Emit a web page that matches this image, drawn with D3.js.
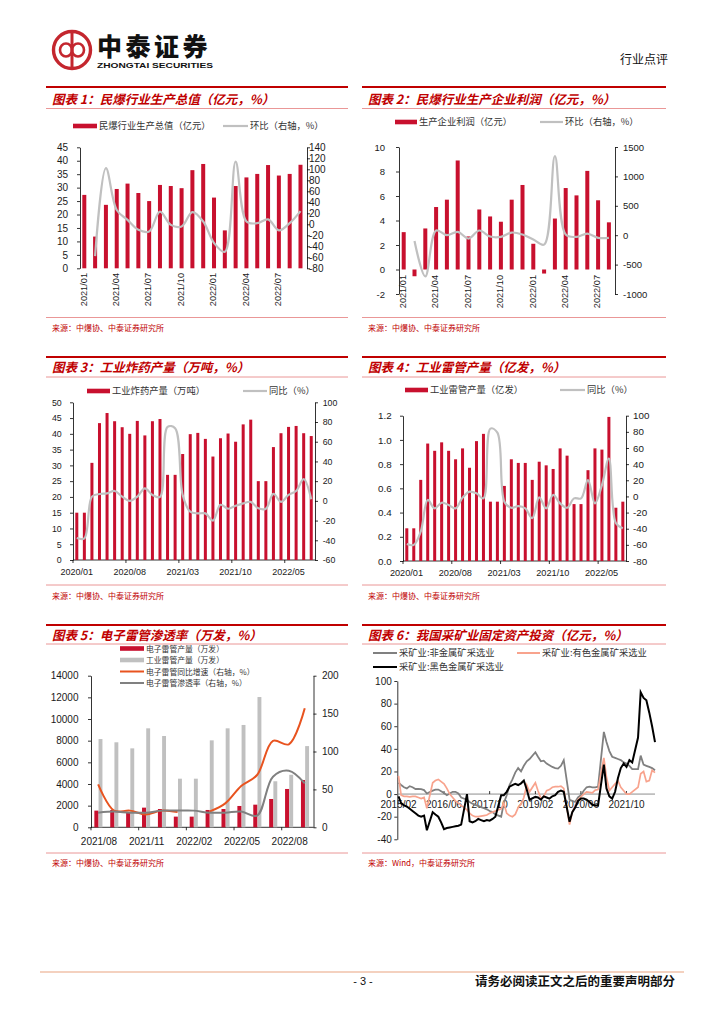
<!DOCTYPE html>
<html>
<head>
<meta charset="utf-8">
<title>行业点评</title>
<script src="https://cdn.jsdelivr.net/npm/d3@7"></script>
<style>
  html, body { margin: 0; padding: 0; background: #ffffff; }
  svg { display: block; }
</style>
</head>
<body>
<div id="page"></div>
<script>

//################### DATA ####################

// 图表1：民爆行业生产总值
var valueMonths = ['2021/01','2021/02','2021/03','2021/04','2021/05','2021/06','2021/07','2021/08','2021/09','2021/10','2021/11','2021/12','2022/01','2022/02','2022/03','2022/04','2022/05','2022/06','2022/07','2022/08','2022/09'];
var valueOutput = [27.3, 11.8, 23.6, 29.5, 31.5, 28.0, 25.0, 31.0, 30.6, 29.8, 36.5, 38.8, 26.3, 14.1, 30.6, 33.8, 35.1, 38.4, 34.5, 35.1, 38.5];
var valueMom = [null, -58, 102, 26, 8, -10, -13, 23, -1, -4, 22, 5, -34, -50, 114, 5, 2, 9, -11, 2, 24];
var valueLeftTicks = [0, 5, 10, 15, 20, 25, 30, 35, 40, 45];
var valueRightTicks = [-80, -60, -40, -20, 0, 20, 40, 60, 80, 100, 120, 140];
var valueLabels = ['2021/01','2021/04','2021/07','2021/10','2022/01','2022/04','2022/07'];

// 图表2：民爆行业生产企业利润
var profitMonths = ['2021/01','2021/02','2021/03','2021/04','2021/05','2021/06','2021/07','2021/08','2021/09','2021/10','2021/11','2021/12','2022/01','2022/02','2022/03','2022/04','2022/05','2022/06','2022/07','2022/08'];
var profitValue = [3.05, -0.55, 3.35, 5.1, 5.7, 8.9, 2.7, 4.9, 4.33, 3.9, 5.7, 6.9, 2.1, -0.33, 4.16, 6.65, 6.05, 8.05, 5.65, 3.85];
var profitMom = [null, -100, -700, 80, 0, 57, -57, 80, -23, -28, 45, 11, -74, -160, 1346, 11, -28, 28, -45, -45];
var profitLeftTicks = [-2, 0, 2, 4, 6, 8, 10];
var profitRightTicks = [-1000, -500, 0, 500, 1000, 1500];
var profitLabels = ['2021/01','2021/04','2021/07','2021/10','2022/01','2022/04','2022/07'];

// 图表3 / 图表4：工业炸药、工业雷管产量
var outputMonths = ['2020/01','2020/02','2020/03','2020/04','2020/05','2020/06','2020/07','2020/08','2020/09','2020/10','2020/11','2020/12','2021/01','2021/02','2021/03','2021/04','2021/05','2021/06','2021/07','2021/08','2021/09','2021/10','2021/11','2021/12','2022/01','2022/02','2022/03','2022/04','2022/05','2022/06','2022/07','2022/08'];
var outputLabels = ['2020/01','2020/08','2021/03','2021/10','2022/05'];
var explosiveOutput = [15.0, 15.0, 30.8, 43.4, 46.6, 44.0, 42.1, 40.0, 44.1, 39.5, 44.0, 44.7, 27.0, 27.0, 33.6, 39.9, 40.3, 38.4, 32.8, 38.6, 40.1, 37.5, 43.0, 44.5, 25.0, 25.0, 35.8, 40.2, 42.2, 42.5, 40.2, 39.3];
var explosiveYoy = [-37.7, -38, 4.3, 7, 7.6, 10, 4.3, 0, 4.3, 12.7, 6, 4, 75, 73.6, 6, -11, -12.7, -12.7, -20, -4, -8, -5, -2.5, -1, -7.6, -8, 7, -1, 6, 10, 22, 1.6];
var explosiveLeftTicks = [0, 5, 10, 15, 20, 25, 30, 35, 40, 45, 50];
var explosiveRightTicks = [-60, -40, -20, 0, 20, 40, 60, 80, 100];
var detonatorOutput = [0.27, 0.27, 0.67, 0.97, 0.91, 0.98, 0.91, 0.84, 0.93, 0.77, 0.99, 1.05, 0.49, 0.49, 0.62, 0.84, 0.81, 0.81, 0.67, 0.82, 0.79, 0.76, 0.93, 0.87, 0.47, 0.47, 0.75, 0.93, 0.92, 1.19, 0.44, 0.49];
var detonatorYoy = [-59, -60, -43.6, -4.4, -14.8, -7.8, -10.6, -14.8, -1.5, 5.9, 3.8, -2.4, 84, 79, -6.5, -14, -12, -14.8, -27, -1.2, -14.8, 1.8, -8.6, -14, -2.4, -2.4, 20.3, -8.6, 14, 47, -33, -39.5];
var detonatorLeftTicks = [0, 0.2, 0.4, 0.6, 0.8, 1.0, 1.2];
var detonatorRightTicks = [-80, -60, -40, -20, 0, 20, 40, 60, 80, 100];

// 图表5：电子雷管渗透率
var elecMonths = ['2021/08','2021/09','2021/10','2021/11','2021/12','2022/01','2022/02','2022/03','2022/04','2022/05','2022/06','2022/07','2022/08','2022/09'];
var elecLabels = ['2021/08','2021/11','2022/02','2022/05','2022/08'];
var elecOutput = [1540, 1600, 1350, 1815, 1690, 985, 985, 1600, 1690, 1970, 2090, 2615, 3540, 4370];
var industrialOutput = [8150, 7850, 7290, 9140, 8430, 4490, 4490, 8030, 9140, 9450, 12030, 4250, 4850, 7500];
var elecYoy = [56.7, 22, 22, 17, 22, 20, null, 20.7, 31.6, 54.5, 69, 114, 109.5, 157];
var elecShare = [19.3, 20.7, 19.3, 19.3, 22, 22, 22, 19.3, 19.3, 20.7, 15.4, 66.8, 74.7, 58];
var elecLeftTicks = [0, 2000, 4000, 6000, 8000, 10000, 12000, 14000];
var elecRightTicks = [0, 50, 100, 150, 200];

// 图表6：我国采矿业固定资产投资（每年2-12月，2022年至8月）
var miningYears = [2015, 2016, 2017, 2018, 2019, 2020, 2021, 2022];
var miningMonthsOfYear = [2, 3, 4, 5, 6, 7, 8, 9, 10, 11, 12];
var miningLastMonth = '2022/08';
var miningLabels = ['2015/02','2016/06','2017/10','2019/02','2020/06','2021/10'];
var miningTicks = [-40, -20, 0, 20, 40, 60, 80, 100];
var nonMetalMining = [
  10, 8, 6, 5, 7, 6, 4.5, 4.5, 4.4, 3.5, 0.5,
  3, 4, 4, 2.5, 1, -1, 0.5, 2, 2, 0.5, -3,
  -5, -7, -8.5, -9.5, -10.5, -11.5, -12.5, -13.5, -15, -16, -18,
  -20, -8, -1, 8, 13, 19, 23, 20, 25, 29, 31,
  37, 33, 29, 29.5, 27, 25.5, 24, 23, 22.5, 25, 30,
  -5, -6, -7, -3, -1, 3, 6, 6.5, 6, 6, 6.5,
  55, 46, 38, 33, 32, 31, 30, 28, 27, 25, 22,
  22, 34, 26, 25, 24, 23, 21
];
var nonFerrousMining = [
  16, -1, -2, -2, -2.5, -2, -2, -3, -4, -3, -12.5,
  10, 12, 13, 11, 9, 5, 0, -3, -6, -8, -10,
  -14, -17, -19, -20, -20, -19.5, -19, -18.5, -17, -16, -15,
  -13, -8, -17, -19, -20, -18, -12, -9, -3, 8, 2,
  10, 3, -4, -2, 3, 4, 6, 6.5, 6.5, 7, 5,
  -27, -16, -10, -5, -2.5, 0, 2, 1.5, 1, 3.5, 4,
  32, 15, 3, 6, 9, 12, 6, 3, 0, 0, 2,
  6, 18, 20, 11, 12, 21, 19
];
var ferrousMining = [
  -2, -8, -10, -11, -13, -15, -17, -19, -20, -19, -32,
  -16, -18, -20, -25, -31, -30, -29.5, -29, -28.5, -28, -27,
  0, -24, -25, -24, -22, -23, -24, -23, -23.5, -22, -20,
  -1, -1, 2, 6.5, 8, 9, 8, 9.5, 12, 4, -5,
  -2.5, -3, -5, -2, -3, -4, -2, -1, 2, 3, 2,
  -24.5, -16, -12, -6, -4, -4, -5, -7, -9.5, -10, -10,
  26, 5, -2, -4, 2, 14, 23, 27, 24, 30, 28,
  50, 90, 85, 83, 72, 60, 46
];

//################### STYLE ####################

var attrs = {
  svgWidth: 724,
  svgHeight: 1024,
  cjkFont: "'Noto Sans CJK SC', 'Noto Sans', sans-serif",
  numFont: "'Liberation Sans', Arial, sans-serif",
  red: '#c00000',
  lightRed: '#e47c7c',
  barRed: '#c8102e',
  lineGray: '#c0c0c0',
  darkGray: '#808080',
  orange: '#e8531f',
  salmon: '#f8a38d',
  textColor: '#1a1a1a'
};

//Add svg
var svg = d3.select('#page').append('svg')
  .attr('width', attrs.svgWidth)
  .attr('height', attrs.svgHeight)
  .attr('font-family', attrs.cjkFont);

//################### HEADER / FOOTER ####################

var logo = svg.append('g').attr('transform', 'translate(72,50)');
logo.append('circle').attr('r', 18.5).attr('fill', 'none').attr('stroke', '#c4262e').attr('stroke-width', 3.4);
logo.append('ellipse').attr('cx', -6).attr('cy', 0).attr('rx', 6).attr('ry', 6.5).attr('fill', 'none').attr('stroke', '#c4262e').attr('stroke-width', 2.6);
logo.append('ellipse').attr('cx', 6).attr('cy', 0).attr('rx', 6).attr('ry', 6.5).attr('fill', 'none').attr('stroke', '#c4262e').attr('stroke-width', 2.6);
logo.append('line').attr('x1', 0).attr('x2', 0).attr('y1', -19).attr('y2', 19).attr('stroke', '#c4262e').attr('stroke-width', 3);

svg.append('text').attr('x', 97).attr('y', 55.5).text('中泰证券')
  .attr('font-size', 25).attr('font-weight', 900).attr('letter-spacing', 3.5).attr('fill', '#111');
svg.append('text').attr('x', 97).attr('y', 68).text('ZHONGTAI SECURITIES')
  .attr('font-family', attrs.numFont).attr('font-size', 8).attr('font-weight', 700)
  .attr('textLength', 116).attr('lengthAdjust', 'spacingAndGlyphs').attr('fill', '#111');
svg.append('text').attr('x', 668).attr('y', 64).attr('text-anchor', 'end').text('行业点评')
  .attr('font-size', 12).attr('fill', '#111');

svg.append('line').attr('x1', 40).attr('x2', 684).attr('y1', 972).attr('y2', 972)
  .attr('stroke', '#f1c2aa').attr('stroke-width', 1.5);
svg.append('text').attr('x', 363).attr('y', 985).attr('text-anchor', 'middle').text('- 3 -')
  .attr('font-family', attrs.numFont).attr('font-size', 11).attr('fill', '#111');
svg.append('text').attr('x', 675).attr('y', 986).attr('text-anchor', 'end').text('请务必阅读正文之后的重要声明部分')
  .attr('font-size', 12.5).attr('font-weight', 700).attr('fill', '#111');

//################### PANELS ####################

var panels = [
  { x0: 46, x1: 348, top: 87, titleY: 103.5, underline: 108.5, srcLine: 317.5, srcY: 331, title: '图表 1：民爆行业生产总值（亿元，%）', source: '来源：中爆协、中泰证券研究所' },
  { x0: 362, x1: 666, top: 87, titleY: 103.5, underline: 108.5, srcLine: 317.5, srcY: 331, title: '图表 2：民爆行业生产企业利润（亿元，%）', source: '来源：中爆协、中泰证券研究所' },
  { x0: 46, x1: 348, top: 357, titleY: 372, underline: 377, srcLine: 585, srcY: 599, title: '图表 3：工业炸药产量（万吨，%）', source: '来源：中爆协、中泰证券研究所' },
  { x0: 362, x1: 666, top: 357, titleY: 372, underline: 377, srcLine: 585, srcY: 599, title: '图表 4：工业雷管产量（亿发，%）', source: '来源：中爆协、中泰证券研究所' },
  { x0: 46, x1: 348, top: 625, titleY: 640, underline: 644, srcLine: 853, srcY: 866, title: '图表 5：电子雷管渗透率（万发，%）', source: '来源：中爆协、中泰证券研究所' },
  { x0: 362, x1: 666, top: 625, titleY: 640, underline: 644, srcLine: 853, srcY: 866, title: '图表 6：我国采矿业固定资产投资（亿元，%）', source: '来源：Wind，中泰证券研究所' }
];

panels.forEach(function (p) {
  svg.append('line').attr('x1', p.x0).attr('x2', p.x1).attr('y1', p.top).attr('y2', p.top)
    .attr('stroke', attrs.red).attr('stroke-width', 2);
  svg.append('text').attr('x', p.x0 + 6).attr('y', p.titleY).text(p.title)
    .attr('font-size', 12.5).attr('font-weight', 700).attr('font-style', 'italic').attr('fill', attrs.red);
  svg.append('line').attr('x1', p.x0).attr('x2', p.x1).attr('y1', p.underline).attr('y2', p.underline)
    .attr('stroke', attrs.lightRed).attr('stroke-width', 0.8);
  svg.append('line').attr('x1', p.x0).attr('x2', p.x1).attr('y1', p.srcLine).attr('y2', p.srcLine)
    .attr('stroke', attrs.lightRed).attr('stroke-width', 0.8);
  svg.append('text').attr('x', p.x0 + 6).attr('y', p.srcY).text(p.source)
    .attr('font-size', 8).attr('fill', attrs.red);
});

//################### HELPERS ####################

function styleAxis(g, fontSize) {
  g.attr('font-family', attrs.numFont).attr('font-size', fontSize).attr('color', attrs.textColor);
  g.select('.domain').attr('stroke', '#000').attr('stroke-width', 0.8);
  g.selectAll('.tick line').attr('stroke', '#000').attr('stroke-width', 0.8);
}

function legendBar(g, x0, x1, y, color, label, size) {
  g.append('rect').attr('x', x0).attr('y', y - 2.3).attr('width', x1 - x0).attr('height', 4.6).attr('fill', color);
  g.append('text').attr('x', x1 + 2).attr('y', y + 3.2).text(label).attr('font-size', size || 9.3).attr('fill', '#333');
}

function legendLine(g, x0, x1, y, color, width, label, size) {
  g.append('line').attr('x1', x0).attr('x2', x1).attr('y1', y).attr('y2', y).attr('stroke', color).attr('stroke-width', width);
  g.append('text').attr('x', x1 + 2).attr('y', y + 3.2).text(label).attr('font-size', size || 9.3).attr('fill', '#333');
}

//Bar (left axis) + smoothed line (right axis) chart
function drawBarLine(p) {
  var chart = svg.append('g').attr('class', p.id);

  //scales
  var x = d3.scaleBand().domain(p.categories).range([p.left, p.right]);
  var yLeft = d3.scaleLinear().domain(p.leftDomain).range([p.bottom, p.top]);
  var yRight = d3.scaleLinear().domain(p.rightDomain).range([p.bottom, p.top]);
  var barX = function (d, i) { return x(p.categories[i]) + p.barOffset; };
  var midX = function (d, i) { return barX(d, i) + p.barWidth / 2; };

  //axes
  var axisL = d3.axisLeft(yLeft).tickValues(p.leftTicks).tickFormat(p.leftFormat)
    .tickSizeInner(3).tickSizeOuter(0).tickPadding(p.leftPad);
  chart.append('g').attr('transform', 'translate(' + p.left + ',0)').call(axisL).call(styleAxis, p.fontSize);
  var axisR = d3.axisRight(yRight).tickValues(p.rightTicks).tickFormat(String)
    .tickSizeInner(3).tickSizeOuter(0).tickPadding(p.rightPad);
  chart.append('g').attr('transform', 'translate(' + p.right + ',0)').call(axisR).call(styleAxis, p.fontSize);

  if (p.bottomLine) {
    chart.append('line').attr('x1', p.left).attr('x2', p.right).attr('y1', p.bottom).attr('y2', p.bottom)
      .attr('stroke', '#000').attr('stroke-width', 0.8);
    chart.append('g').selectAll('line').data(p.labels).enter().append('line')
      .attr('x1', function (d) { return x(d); }).attr('x2', function (d) { return x(d); })
      .attr('y1', p.bottom).attr('y2', p.bottom + 3)
      .attr('stroke', '#000').attr('stroke-width', 0.8);
  }

  //bars
  chart.append('g').selectAll('rect').data(p.bars).enter().append('rect')
    .attr('x', barX)
    .attr('width', p.barWidth)
    .attr('y', function (d) { return Math.min(yLeft(d), yLeft(0)); })
    .attr('height', function (d) { return Math.abs(yLeft(d) - yLeft(0)); })
    .attr('fill', attrs.barRed);

  //smoothed line
  var line = d3.line()
    .defined(function (d) { return d != null; })
    .x(midX)
    .y(function (d) { return yRight(d); })
    .curve(d3.curveCatmullRom.alpha(0.5));
  chart.append('path').datum(p.line).attr('d', line)
    .attr('fill', 'none').attr('stroke', attrs.lineGray).attr('stroke-width', 2.2);

  //category labels
  var labels = chart.append('g').attr('font-family', attrs.numFont).attr('font-size', p.labelSize).attr('fill', attrs.textColor)
    .selectAll('text').data(p.labels).enter().append('text').text(function (d) { return d; });
  if (p.rotate) {
    labels.attr('text-anchor', 'end').attr('dy', '0.35em')
      .attr('transform', function (d) {
        return 'translate(' + (x(d) + p.barOffset + p.barWidth / 2 - 1) + ',' + p.labelY + ') rotate(-90)';
      });
  } else {
    labels.attr('text-anchor', 'middle')
      .attr('x', function (d) { return x(d) + x.bandwidth() / 2; })
      .attr('y', p.labelY);
  }

  //legend
  var lg = chart.append('g');
  legendBar(lg, p.legend.barX0, p.legend.barX1, p.legend.y, attrs.barRed, p.legend.barText);
  legendLine(lg, p.legend.lineX0, p.legend.lineX1, p.legend.y, attrs.lineGray, 2.2, p.legend.lineText);
}

//################### CHARTS 1-4 ####################

drawBarLine({
  id: 'chart-1', categories: valueMonths, bars: valueOutput, line: valueMom,
  left: 80, right: 307, top: 147.3, bottom: 268.3,
  leftDomain: [0, 45], rightDomain: [-80, 140],
  leftTicks: valueLeftTicks, rightTicks: valueRightTicks, leftFormat: String,
  leftPad: 9, rightPad: -1, fontSize: 10,
  barOffset: 2.3, barWidth: 4,
  labels: valueLabels, rotate: true, labelY: 273, labelSize: 9.2, bottomLine: false,
  legend: { y: 126, barX0: 73, barX1: 97, barText: '民爆行业生产总值（亿元）', lineX0: 223, lineX1: 248, lineText: '环比（右轴，%）' }
});

drawBarLine({
  id: 'chart-2', categories: profitMonths, bars: profitValue, line: profitMom,
  left: 399, right: 615, top: 147, bottom: 294,
  leftDomain: [-2, 10], rightDomain: [-1000, 1500],
  leftTicks: profitLeftTicks, rightTicks: profitRightTicks, leftFormat: String,
  leftPad: 11, rightPad: 5, fontSize: 9.5,
  barOffset: 2.7, barWidth: 4,
  labels: profitLabels, rotate: true, labelY: 275, labelSize: 9.2, bottomLine: false,
  legend: { y: 122, barX0: 395, barX1: 417, barText: '生产企业利润（亿元）', lineX0: 540, lineX1: 563, lineText: '环比（右轴，%）' }
});

drawBarLine({
  id: 'chart-3', categories: outputMonths, bars: explosiveOutput, line: explosiveYoy,
  left: 73, right: 315, top: 402.3, bottom: 560,
  leftDomain: [0, 50], rightDomain: [-60, 100],
  leftTicks: explosiveLeftTicks, rightTicks: explosiveRightTicks, leftFormat: String,
  leftPad: 8.3, rightPad: 4.7, fontSize: 8.8,
  barOffset: 2.3, barWidth: 3,
  labels: outputLabels, rotate: false, labelY: 574.5, labelSize: 9, bottomLine: true,
  legend: { y: 391, barX0: 87, barX1: 110, barText: '工业炸药产量（万吨）', lineX0: 243, lineX1: 267, lineText: '同比（%）' }
});

drawBarLine({
  id: 'chart-4', categories: outputMonths, bars: detonatorOutput, line: detonatorYoy,
  left: 403, right: 626, top: 415.7, bottom: 561,
  leftDomain: [0, 1.2], rightDomain: [-80, 100],
  leftTicks: detonatorLeftTicks, rightTicks: detonatorRightTicks, leftFormat: d3.format('.1f'),
  leftPad: 8.3, rightPad: 4, fontSize: 9.8,
  barOffset: 2.3, barWidth: 3,
  labels: outputLabels, rotate: false, labelY: 576, labelSize: 9.2, bottomLine: true,
  legend: { y: 390, barX0: 405, barX1: 428, barText: '工业雷管产量（亿发）', lineX0: 560, lineX1: 585, lineText: '同比（%）' }
});

//################### CHART 5 ####################

var c5 = svg.append('g').attr('class', 'chart-5');
var x5 = d3.scaleBand().domain(elecMonths).range([91, 313.5]);
var y5Left = d3.scaleLinear().domain([0, 14000]).range([827.3, 675.7]);
var y5Right = d3.scaleLinear().domain([0, 200]).range([827.3, 675.7]);
var mid5 = function (i) { return x5(elecMonths[i]) + x5.bandwidth() / 2; };

c5.append('g').attr('transform', 'translate(91,0)')
  .call(d3.axisLeft(y5Left).tickValues(elecLeftTicks).tickFormat(String).tickSizeInner(3).tickSizeOuter(0).tickPadding(9.5))
  .call(styleAxis, 10);
c5.append('g').attr('transform', 'translate(313.5,0)')
  .call(d3.axisRight(y5Right).tickValues(elecRightTicks).tickFormat(String).tickSizeInner(3).tickSizeOuter(0).tickPadding(5.5))
  .call(styleAxis, 10);
c5.append('line').attr('x1', 91).attr('x2', 313.5).attr('y1', 827.3).attr('y2', 827.3).attr('stroke', '#000').attr('stroke-width', 0.8);
c5.append('g').selectAll('line').data(elecLabels).enter().append('line')
  .attr('x1', function (d) { return x5(d); }).attr('x2', function (d) { return x5(d); })
  .attr('y1', 827.3).attr('y2', 830.3).attr('stroke', '#000').attr('stroke-width', 0.8);

//industrial detonator bars
c5.append('g').selectAll('rect').data(industrialOutput).enter().append('rect')
  .attr('x', function (d, i) { return mid5(i) - 0.4; })
  .attr('width', 3.9)
  .attr('y', function (d) { return y5Left(d); })
  .attr('height', function (d) { return y5Left(0) - y5Left(d); })
  .attr('fill', attrs.lineGray);

//electronic detonator bars
c5.append('g').selectAll('rect').data(elecOutput).enter().append('rect')
  .attr('x', function (d, i) { return mid5(i) - 4.6; })
  .attr('width', 4)
  .attr('y', function (d) { return y5Left(d); })
  .attr('height', function (d) { return y5Left(0) - y5Left(d); })
  .attr('fill', attrs.barRed);

var line5 = d3.line()
  .defined(function (d) { return d != null; })
  .x(function (d, i) { return mid5(i) - 0.8; })
  .y(function (d) { return y5Right(d); })
  .curve(d3.curveCatmullRom.alpha(0.5));
c5.append('path').datum(elecYoy).attr('d', line5).attr('fill', 'none').attr('stroke', attrs.orange).attr('stroke-width', 2);
c5.append('path').datum(elecShare).attr('d', line5).attr('fill', 'none').attr('stroke', attrs.darkGray).attr('stroke-width', 2);

c5.append('g').attr('font-family', attrs.numFont).attr('font-size', 10).attr('fill', attrs.textColor)
  .selectAll('text').data(elecLabels).enter().append('text')
  .attr('x', function (d) { return x5(d) + x5.bandwidth() / 2; })
  .attr('y', 844.5)
  .attr('text-anchor', 'middle')
  .text(function (d) { return d; });

//stacked legend, rows kept tight as in the source chart
var lg5 = c5.append('g');
legendBar(lg5, 120, 144, 648.5, attrs.barRed, '电子雷管产量（万发）', 7.8);
legendBar(lg5, 120, 144, 660, attrs.lineGray, '工业雷管产量（万发）', 7.8);
legendLine(lg5, 120, 144, 671.5, attrs.orange, 2, '电子雷管同比增速（右轴，%）', 7.8);
legendLine(lg5, 120, 144, 683, attrs.darkGray, 2, '电子雷管渗透率（右轴，%）', 7.8);

//################### CHART 6 ####################

var parseMonth = d3.timeParse('%Y/%m');
var lastMiningDate = parseMonth(miningLastMonth);
var miningDates = [];
miningYears.forEach(function (y) {
  miningMonthsOfYear.forEach(function (m) {
    var d = new Date(y, m - 1, 1);
    if (d <= lastMiningDate) miningDates.push(d);
  });
});

var c6 = svg.append('g').attr('class', 'chart-6');
var x6 = d3.scaleTime().domain([parseMonth('2015/02'), lastMiningDate]).range([398.5, 655]);
var y6 = d3.scaleLinear().domain([-40, 100]).range([839.3, 681]);

c6.append('g').attr('transform', 'translate(397.3,0)')
  .call(d3.axisLeft(y6).tickValues(miningTicks).tickFormat(String).tickSizeInner(3).tickSizeOuter(0).tickPadding(2.5))
  .call(styleAxis, 10);

//zero line
c6.append('line').attr('x1', 397.3).attr('x2', 655).attr('y1', y6(0)).attr('y2', y6(0))
  .attr('stroke', attrs.darkGray).attr('stroke-width', 0.9);
c6.append('g').selectAll('line').data(miningLabels.slice(1)).enter().append('line')
  .attr('x1', function (d) { return x6(parseMonth(d)); }).attr('x2', function (d) { return x6(parseMonth(d)); })
  .attr('y1', y6(0)).attr('y2', y6(0) - 3).attr('stroke', '#000').attr('stroke-width', 0.8);

c6.append('g').attr('font-family', attrs.numFont).attr('font-size', 10).attr('fill', attrs.textColor)
  .selectAll('text').data(miningLabels).enter().append('text')
  .attr('x', function (d) { return x6(parseMonth(d)); })
  .attr('y', 808)
  .attr('text-anchor', 'middle')
  .text(function (d) { return d; });

var line6 = d3.line()
  .x(function (d, i) { return x6(miningDates[i]); })
  .y(function (d) { return y6(d); });
c6.append('path').datum(nonMetalMining).attr('d', line6).attr('fill', 'none').attr('stroke', attrs.darkGray).attr('stroke-width', 1.8);
c6.append('path').datum(nonFerrousMining).attr('d', line6).attr('fill', 'none').attr('stroke', attrs.salmon).attr('stroke-width', 1.7);
c6.append('path').datum(ferrousMining).attr('d', line6).attr('fill', 'none').attr('stroke', '#000').attr('stroke-width', 2);

var lg6 = c6.append('g');
legendLine(lg6, 373, 397, 653, attrs.darkGray, 2, '采矿业:非金属矿采选业');
legendLine(lg6, 517, 540, 653, attrs.salmon, 2, '采矿业:有色金属矿采选业');
legendLine(lg6, 373, 397, 667, '#000', 2, '采矿业:黑色金属矿采选业');

</script>
</body>
</html>
